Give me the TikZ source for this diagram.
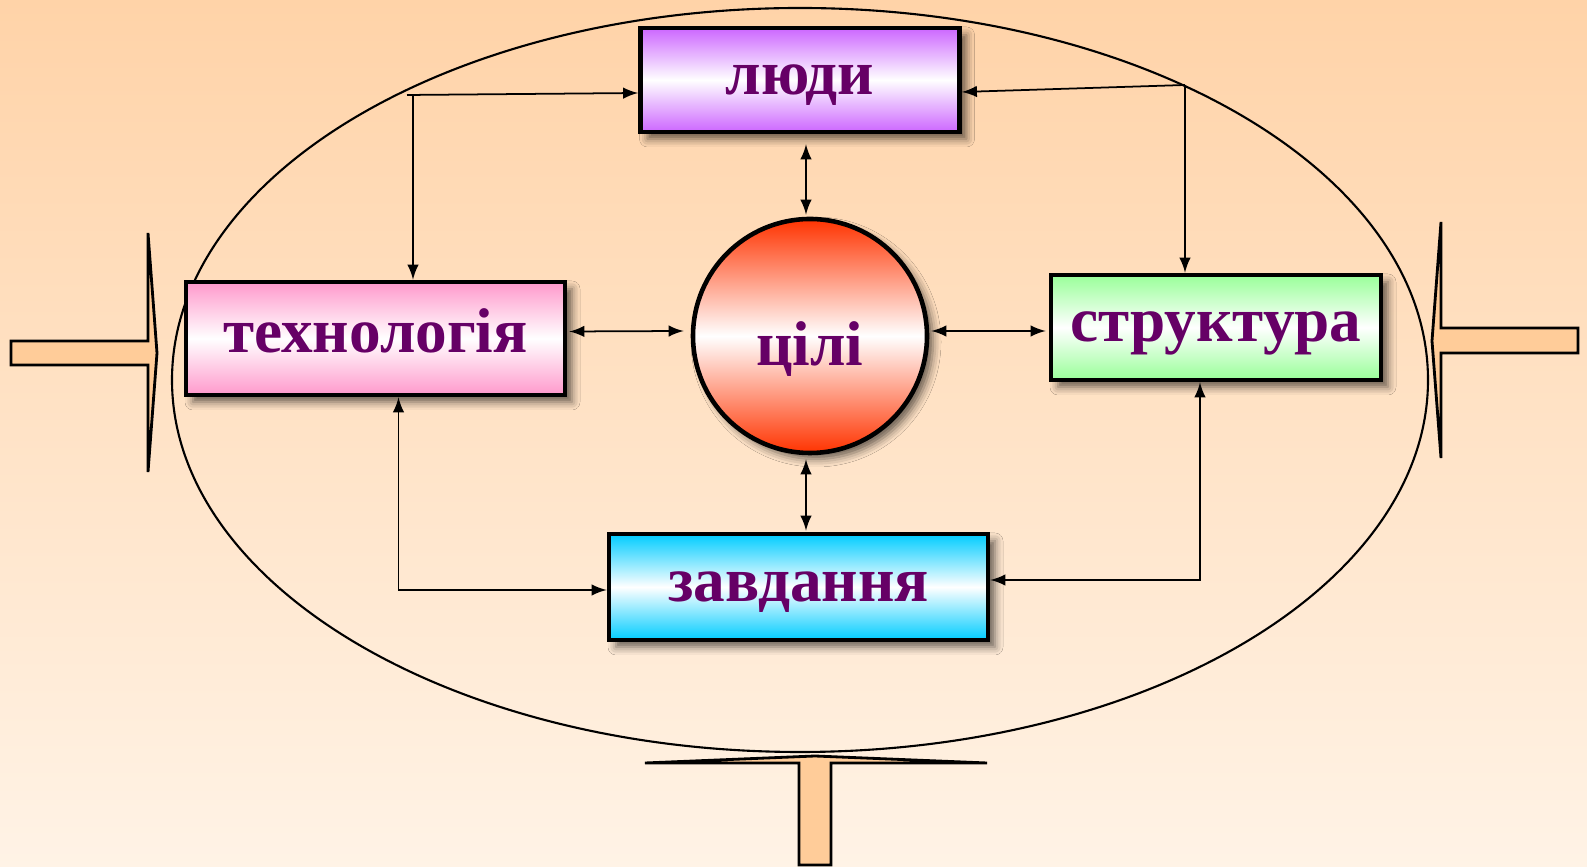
\documentclass[tikz,border=0pt]{standalone}
\usepackage{fontspec}
\setmainfont{Liberation Serif}
\usepackage{xcolor}
\usepackage{tikz}
\usetikzlibrary{shapes}
\usetikzlibrary{arrows}
\usetikzlibrary{shadows.blur}
\definecolor{bgtop}{RGB}{255,211,168}
\definecolor{bgbot}{RGB}{255,243,230}
\definecolor{txt}{RGB}{102,0,102}
\definecolor{lyudy}{RGB}{204,102,255}
\definecolor{tekhn}{RGB}{255,153,204}
\definecolor{strukt}{RGB}{153,255,153}
\definecolor{zavd}{RGB}{0,204,255}
\definecolor{tsili}{RGB}{255,51,0}
\definecolor{peach}{RGB}{255,204,153}
\tikzset{
	main node/.style={circle,draw,line width=1.3pt,minimum size=2.34cm,
		font=\fontsize{18}{22}\selectfont\bfseries,text=txt,
		top color=tsili,bottom color=tsili,middle color=white,
		blur shadow={shadow xshift=0.06cm,shadow yshift=-0.06cm,shadow blur radius=0.08cm,shadow opacity=60}},
	box node/.style={draw,line width=1.3pt,font=\fontsize{18}{22}\selectfont\bfseries,text=txt,
		text height=8.2pt,text depth=0pt,
		top color=#1,bottom color=#1,middle color=white,
		blur shadow={shadow xshift=0.07cm,shadow yshift=-0.07cm,shadow blur radius=0.08cm,shadow opacity=60}},
	big arrow/.style={draw,fill=peach,line width=0.8pt}
}

\begin{document}
\begin{tikzpicture}[>=latex,line width=0.5pt]
	\useasboundingbox (0,0) rectangle (15.87,-8.67);
	\shade[top color=bgtop,bottom color=bgbot] (0,0) rectangle (15.87,-8.67);
	\draw[line width=0.6pt] (8.00,-3.80) ellipse (6.28 and 3.72);
	% incoming arrows
	\draw[big arrow] (0.11,-3.41) -- (1.48,-3.41) -- (1.48,-2.33) -- (1.57,-3.53) -- (1.48,-4.72) -- (1.48,-3.65) -- (0.11,-3.65) -- cycle;
	\draw[big arrow] (15.78,-3.28) -- (14.41,-3.28) -- (14.41,-2.22) -- (14.32,-3.41) -- (14.41,-4.58) -- (14.41,-3.53) -- (15.78,-3.53) -- cycle;
	\draw[big arrow] (7.99,-8.65) -- (7.99,-7.63) -- (6.45,-7.63) -- (8.15,-7.56) -- (9.87,-7.63) -- (8.31,-7.63) -- (8.31,-8.65) -- cycle;
	% nodes
	\node [main node] (1) at (8.10,-3.36) {\raisebox{-0.15cm}[1ex][0pt]{цілі}};
	\node [box node=lyudy,minimum width=3.19cm,minimum height=1.04cm] (2) at (8.00,-0.80) {люди};
	\node [box node=tekhn,minimum width=3.79cm,minimum height=1.13cm] (3) at (3.755,-3.385) {технологія};
	\node [box node=strukt,minimum width=3.30cm,minimum height=1.05cm] (4) at (12.16,-3.275) {структура};
	\node [box node=zavd,minimum width=3.79cm,minimum height=1.06cm] (5) at (7.985,-5.87) {завдання};
	% links
	\draw[<->] ([shift={(0.06,-0.10)}]2.south) -- ([shift={(-0.04,0.02)}]1.north);
	\draw[<->] ([shift={(-0.04,-0.04)}]1.south) -- ([shift={(0.075,0.01)}]5.north);
	\draw[<->] ([shift={(0.02,0.07)}]3.east) -- ([shift={(-0.07,0.05)}]1.west);
	\draw[<->] ([shift={(0.02,0.05)}]1.east) -- ([shift={(-0.03,-0.035)}]4.west);
	\coordinate (a) at (4.07,-0.95);
	\coordinate (b) at (11.85,-0.85);
	\draw[->] (a) -- ([yshift=-0.13cm]2.west);
	\draw[->] ([xshift=0.06cm]a) -- ([xshift=0.06cm]a |- 3.north);
	\draw[->] (b) -- ([yshift=-0.12cm]2.east);
	\draw[->] (b) -- (b |- 4.north);
	\draw[<->] ([xshift=0.23cm]3.south) |- ([yshift=-0.03cm]5.west);
	\draw[<->] ([xshift=-0.16cm]4.south) |- ([yshift=0.07cm]5.east);
\end{tikzpicture}
\end{document}
